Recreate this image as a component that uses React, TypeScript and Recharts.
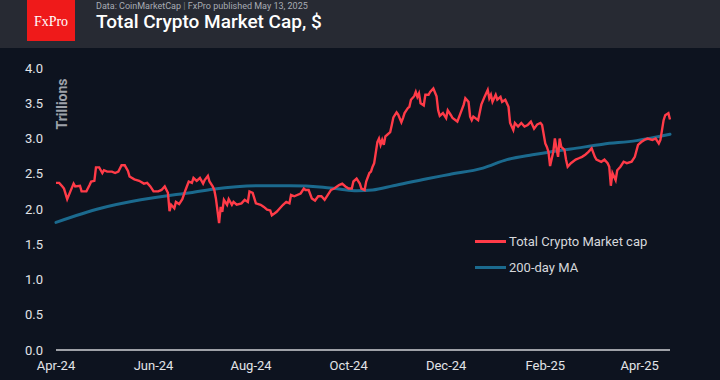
import React from "react";
import { LineChart, Line, XAxis, YAxis } from "recharts";

const capDay = [0,2,4,5,7,9,11,12,15,16,19,21,22,24,25,27,29,30,32,35,37,39,41,43,45,46,49,52,55,57,59,61,64,66,68,70,71,72,74,75,77,79,81,83,85,86,88,90,92,93,95,96,98,99,100,102,103,104,105,107,108,110,111,113,116,118,120,121,123,125,128,130,132,134,135,138,140,142,144,146,147,149,153,155,156,158,160,162,164,166,168,170,172,174,177,179,181,183,185,186,188,190,191,193,194,196,197,198,199,201,202,203,204,205,206,207,209,210,211,213,214,216,217,218,220,221,222,224,225,226,227,228,230,231,233,234,236,238,239,240,242,244,245,247,248,251,253,255,256,258,259,260,261,264,266,268,270,271,272,273,275,276,278,279,281,283,284,286,287,289,291,293,295,297,299,301,303,304,306,307,308,309,311,312,313,314,315,316,318,319,320,322,325,327,329,331,333,335,337,338,341,343,345,346,347,348,350,351,353,355,357,360,362,364,366,368,370,373,375,377,378,380,381,383,384];
const capVal = [2.37,2.37,2.32,2.29,2.14,2.25,2.36,2.32,2.33,2.25,2.25,2.34,2.39,2.40,2.59,2.59,2.51,2.55,2.53,2.53,2.51,2.53,2.62,2.62,2.54,2.46,2.42,2.40,2.36,2.37,2.32,2.25,2.25,2.27,2.32,2.23,1.97,2.06,2.01,2.10,2.07,2.14,2.27,2.39,2.37,2.44,2.40,2.44,2.36,2.41,2.47,2.39,2.32,2.27,2.15,1.80,2.03,1.96,2.13,2.06,2.14,2.06,2.10,2.06,2.08,2.13,2.10,2.25,2.23,2.08,2.06,2.03,1.99,1.98,1.91,1.96,2.01,2.06,2.10,2.08,2.20,2.18,2.22,2.29,2.27,2.27,2.15,2.12,2.18,2.18,2.13,2.20,2.27,2.29,2.34,2.36,2.32,2.29,2.29,2.39,2.43,2.36,2.29,2.27,2.39,2.51,2.53,2.60,2.65,2.95,3.00,2.91,2.98,2.91,3.03,3.05,3.09,3.19,3.30,3.37,3.34,3.23,3.29,3.36,3.43,3.45,3.55,3.60,3.66,3.59,3.64,3.50,3.47,3.62,3.62,3.66,3.71,3.60,3.40,3.32,3.36,3.29,3.40,3.33,3.29,3.24,3.36,3.48,3.57,3.52,3.31,3.26,3.31,3.26,3.48,3.59,3.69,3.57,3.62,3.52,3.62,3.55,3.59,3.52,3.55,3.45,3.22,3.12,3.22,3.17,3.22,3.17,3.19,3.24,3.14,3.20,3.22,3.19,2.93,2.88,2.81,2.61,2.81,3.00,2.86,2.74,3.00,2.88,2.84,2.70,2.60,2.65,2.70,2.72,2.74,2.77,2.81,2.86,2.74,2.70,2.67,2.70,2.65,2.60,2.33,2.51,2.41,2.55,2.60,2.67,2.65,2.67,2.74,2.91,2.95,2.98,3.00,2.98,3.00,2.93,2.98,3.26,3.33,3.36,3.27];

const maDay = [0,28,53,73,84,98,126,146,167,178,188,198,211,232,246,267,282,298,309,322,342,363,384];
const maVal = [1.81,2.01,2.13,2.20,2.23,2.28,2.33,2.33,2.31,2.28,2.26,2.27,2.33,2.43,2.49,2.58,2.70,2.77,2.81,2.85,2.92,2.97,3.06];

const xTickDays = [0, 61, 122, 183, 244, 306, 365];
const xTickLabels = ["Apr-24", "Jun-24", "Aug-24", "Oct-24", "Dec-24", "Feb-25", "Apr-25"];
const yTicks = [0, 0.5, 1, 1.5, 2, 2.5, 3, 3.5, 4];

const capData = capDay.map((d, i) => ({ d, v: capVal[i] }));
const maData = maDay.map((d, i) => ({ d, v: maVal[i] }));

const RED = "#ff3b48";
const BLUE = "#1b6a8e";
const FONT = "Roboto, 'Noto Sans', sans-serif";

const legendItems = [
  { label: "Total Crypto Market cap", color: RED },
  { label: "200-day MA", color: BLUE },
];

export default function App() {
  return (
    <div style={{ position: "absolute", left: 0, top: 0, width: 720, height: 380, background: "#0d131f", overflow: "hidden", fontFamily: FONT }}>
      <div style={{ position: "absolute", left: 0, top: 0, width: 720, height: 48, background: "#272a33" }} />
      <div style={{ position: "absolute", left: 27, top: 0, width: 48, height: 41, background: "#ef1a1a", display: "flex", alignItems: "center", justifyContent: "center" }}>
        <span style={{ fontFamily: "'Liberation Serif', 'DejaVu Serif', serif", color: "#fff", fontSize: 14, marginTop: 2 }}>FxPro</span>
      </div>
      <div style={{ position: "absolute", left: 96, top: 0, fontSize: 9, color: "#a8acb4", lineHeight: "12px", whiteSpace: "nowrap" }}>
        Data: CoinMarketCap <span style={{ color: "#777b83" }}>|</span> FxPro published May 13, 2025
      </div>
      <div style={{ position: "absolute", left: 96, top: 11, fontSize: 19, color: "#ffffff", fontWeight: 500, lineHeight: "22px", whiteSpace: "nowrap" }}>
        Total Crypto Market Cap, $
      </div>
      <div style={{ position: "absolute", left: 0, top: 48 }}>
        <LineChart width={720} height={332} margin={{ top: 20, right: 50, bottom: 0, left: 0 }}>
          <XAxis
            type="number"
            dataKey="d"
            domain={[0, 384]}
            ticks={xTickDays}
            tickFormatter={(v: number) => xTickLabels[xTickDays.indexOf(v)] ?? ""}
            axisLine={{ stroke: "#cfd2d6", strokeWidth: 1.5 }}
            tickLine={false}
            tickMargin={5}
            height={30}
            tick={{ fill: "#e2e4e8", fontSize: 13, fontFamily: FONT }}
          />
          <YAxis
            type="number"
            domain={[0, 4]}
            ticks={yTicks}
            tickFormatter={(v: number) => v.toFixed(1)}
            axisLine={false}
            tickLine={false}
            tickMargin={7}
            width={56}
            tick={{ fill: "#e2e4e8", fontSize: 13, fontFamily: FONT }}
          />
          <Line data={maData} dataKey="v" type="monotone" stroke={BLUE} strokeWidth={3} strokeLinecap="round" dot={false} isAnimationActive={false} name="200-day MA" />
          <Line data={capData} dataKey="v" type="linear" stroke={RED} strokeWidth={2.4} dot={false} isAnimationActive={false} name="Total Crypto Market cap" />
        </LineChart>
      </div>
      <div style={{ position: "absolute", left: 31.5, top: 95, width: 60, height: 18, lineHeight: "18px", textAlign: "center", transform: "rotate(-90deg)", color: "#9ea2aa", fontSize: 14, fontWeight: 700, whiteSpace: "nowrap" }}>
        Trillions
      </div>
      <div style={{ position: "absolute", left: 475, top: 228 }}>
        {legendItems.map((it) => (
          <div key={it.label} style={{ display: "flex", alignItems: "center", height: 26 }}>
            <div style={{ width: 31, height: 3, background: it.color, marginRight: 3 }} />
            <span style={{ color: "#d6d8dc", fontSize: 13 }}>{it.label}</span>
          </div>
        ))}
      </div>
    </div>
  );
}
